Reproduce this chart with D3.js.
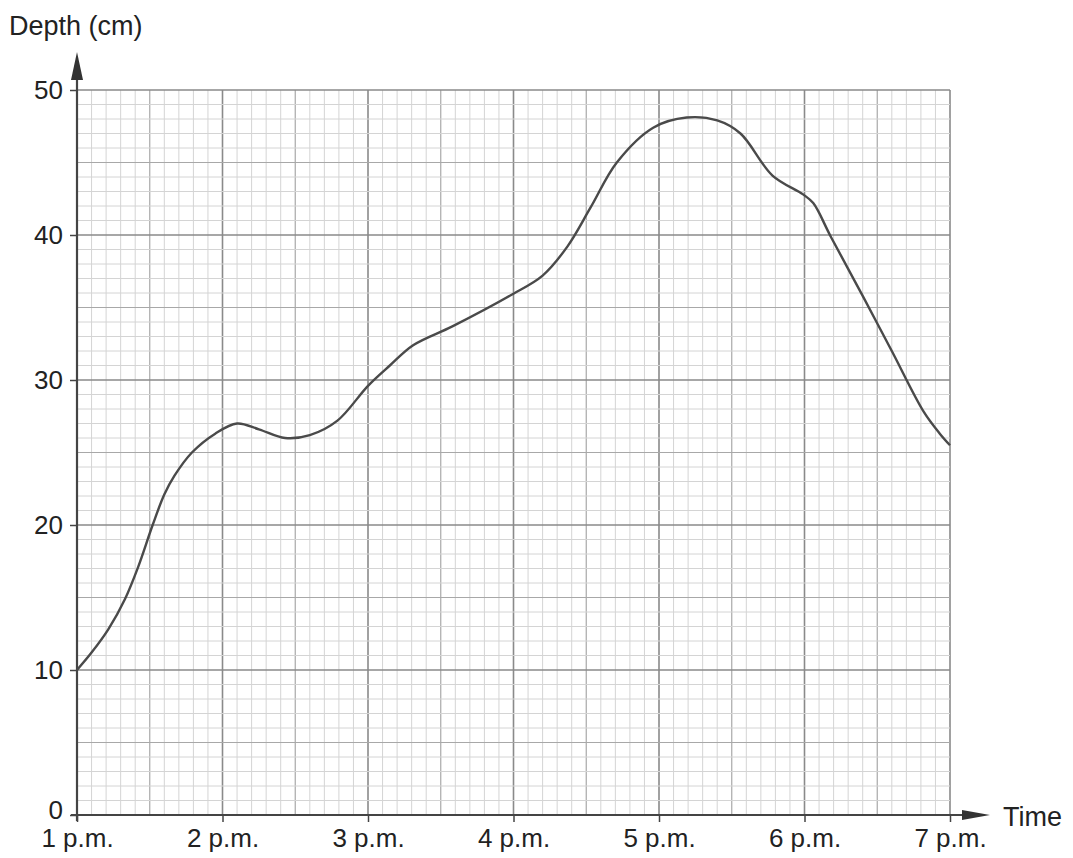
<!DOCTYPE html>
<html lang="en">
<head>
<meta charset="UTF-8">
<title>Depth over time</title>
<script src="https://cdn.jsdelivr.net/npm/d3@7"></script>
<style>
  body { margin: 0; background: #fff; }
  svg text { font-family: "Liberation Sans", Arial, sans-serif; fill: #222; }
</style>
</head>
<body>
<div id="chart"></div>
<script>
// hours after noon (1 = 1 p.m.) and depth in cm
const times = [1, 1.1, 1.215, 1.33, 1.42, 1.52, 1.6, 1.67, 1.79, 1.95, 2.1, 2.25, 2.43, 2.6, 2.79, 3.0, 3.15, 3.31, 3.58, 3.99, 4.2, 4.37, 4.53, 4.71, 4.96, 5.19, 5.4, 5.56, 5.78, 5.99, 6.06, 6.18, 6.4, 6.6, 6.82, 6.93, 7.0];
const depths = [10, 11.2, 12.8, 14.9, 17.1, 20.0, 22.1, 23.4, 25.0, 26.3, 27.0, 26.6, 26.0, 26.2, 27.2, 29.6, 31.0, 32.4, 33.7, 35.9, 37.2, 39.2, 41.9, 45.0, 47.4, 48.1, 47.9, 47.0, 44.1, 42.8, 42.2, 39.9, 35.8, 32.0, 27.8, 26.3, 25.5];

const xTicks = [1, 2, 3, 4, 5, 6, 7];
const xTickLabels = ['1 p.m.', '2 p.m.', '3 p.m.', '4 p.m.', '5 p.m.', '6 p.m.', '7 p.m.'];
const yTicks = [0, 10, 20, 30, 40, 50];

const w = 1073, h = 858;
const padLeft = 77, padRight = 950, padTop = 90, padBottom = 815;

const x = d3.scaleLinear().domain([1, 7]).range([padLeft, padRight]);
const y = d3.scaleLinear().domain([0, 50]).range([padBottom, padTop]);

const svg = d3.select('#chart').append('svg')
    .attr('width', w).attr('height', h);

// graph paper: minor every 6 min / 1 cm, medium every 30 min / 5 cm, major every hour / 10 cm
const grid = svg.append('g');
const xMinor = d3.range(0, 61).map(i => 1 + i / 10);
const yMinor = d3.range(0, 51);

function lineStyle(i) {
    if (i % 10 === 0) return { c: '#8a8a8a', w: 1.6 };
    if (i % 5 === 0) return { c: '#a8a8a8', w: 1.2 };
    return { c: '#d4d4d4', w: 1 };
}

grid.selectAll('line.vx')
    .data(xMinor)
    .enter().append('line')
    .attr('x1', d => x(d)).attr('x2', d => x(d))
    .attr('y1', y(0)).attr('y2', y(50))
    .attr('stroke', (d, i) => lineStyle(i).c)
    .attr('stroke-width', (d, i) => lineStyle(i).w);

grid.selectAll('line.hy')
    .data(yMinor)
    .enter().append('line')
    .attr('y1', d => y(d)).attr('y2', d => y(d))
    .attr('x1', x(1)).attr('x2', x(7))
    .attr('stroke', (d, i) => lineStyle(i).c)
    .attr('stroke-width', (d, i) => lineStyle(i).w);

// axes
const xAxis = d3.axisBottom(x).tickValues(xTicks).tickFormat((d, i) => xTickLabels[i]).tickSize(7).tickPadding(7);
const yAxis = d3.axisLeft(y).tickValues(yTicks).tickFormat(d3.format('d')).tickSize(7).tickPadding(7);

const gx = svg.append('g')
    .attr('transform', `translate(0, ${padBottom})`)
    .call(xAxis);
gx.select('.domain').remove();
gx.selectAll('line').attr('stroke', '#444').attr('stroke-width', 1.5);
gx.selectAll('text').style('font-size', '26px').attr('fill', '#222');

const gy = svg.append('g')
    .attr('transform', `translate(${padLeft}, 0)`)
    .call(yAxis);
gy.select('.domain').remove();
gy.selectAll('line').attr('stroke', '#444').attr('stroke-width', 1.5);
gy.selectAll('text').style('font-size', '26px').attr('fill', '#222')
    .attr('dy', d => d === 0 ? '0.15em' : '0.32em');

// axis lines with arrows
svg.append('line')
    .attr('x1', padLeft).attr('x2', padLeft)
    .attr('y1', padBottom + 6).attr('y2', 70)
    .attr('stroke', '#444').attr('stroke-width', 2.2);
svg.append('path')
    .attr('d', `M${padLeft},52 L${padLeft - 6},80 L${padLeft + 6},80 Z`)
    .attr('fill', '#333');

svg.append('line')
    .attr('x1', padLeft - 6).attr('x2', 975)
    .attr('y1', padBottom).attr('y2', padBottom)
    .attr('stroke', '#444').attr('stroke-width', 2.2);
svg.append('path')
    .attr('d', `M990,${padBottom} L962,${padBottom - 5} L962,${padBottom + 5} Z`)
    .attr('fill', '#333');

svg.append('text')
    .attr('x', 9).attr('y', 35)
    .style('font-size', '27px')
    .text('Depth (cm)');

svg.append('text')
    .attr('x', 1003).attr('y', 826)
    .style('font-size', '27px')
    .text('Time');

// the depth curve
const pts = times.map((t, i) => [t, depths[i]]);
svg.append('path')
    .datum(pts)
    .attr('fill', 'none')
    .attr('stroke', '#4a4a4a')
    .attr('stroke-width', 2.4)
    .attr('d', d3.line()
        .x(d => x(d[0]))
        .y(d => y(d[1]))
        .curve(d3.curveCatmullRom.alpha(0.5)));
</script>
</body>
</html>
